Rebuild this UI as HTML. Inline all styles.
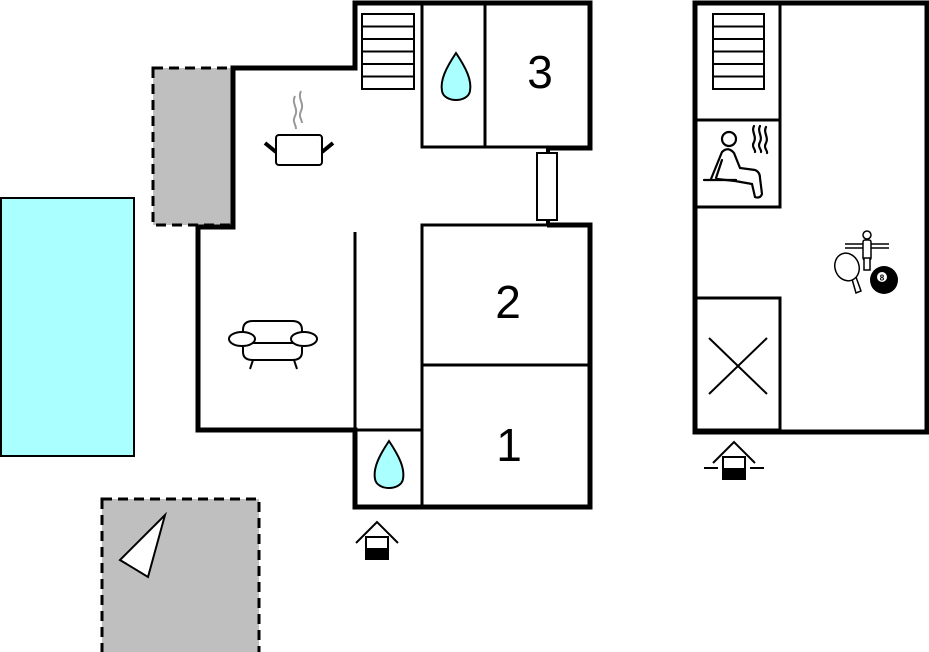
<!DOCTYPE html>
<html><head><style>body{margin:0;background:#fff}svg{display:block}</style></head><body>
<svg width="929" height="652" viewBox="0 0 929 652" xmlns="http://www.w3.org/2000/svg" font-family="Liberation Sans, sans-serif">
<rect x="1" y="198" width="133" height="258" fill="#aaffff" stroke="#000" stroke-width="2"/>
<rect x="153" y="68" width="80" height="157" fill="#bfbfbf" stroke="#000" stroke-width="3" stroke-dasharray="10,6"/>
<rect x="102" y="499" width="157" height="160" fill="#bfbfbf" stroke="#000" stroke-width="3" stroke-dasharray="10,6"/>
<polygon points="120,560 165,515 148,577" fill="#fff" stroke="#000" stroke-width="2"/>
<g stroke="#000" stroke-width="3" fill="none">
<rect x="422" y="3" width="63" height="144"/>
<rect x="485" y="3" width="105" height="144"/>
<rect x="422" y="225" width="168" height="140"/>
<rect x="422" y="365" width="168" height="142"/>
<rect x="355" y="430" width="67" height="77"/>
<line x1="355" y1="232" x2="355" y2="430"/>
</g>
<g stroke="#000" stroke-width="2" fill="#fff">
<rect x="362" y="14" width="52" height="75"/>
<line x1="362" y1="26.5" x2="414" y2="26.5"/><line x1="362" y1="39" x2="414" y2="39"/><line x1="362" y1="51.5" x2="414" y2="51.5"/><line x1="362" y1="64" x2="414" y2="64"/><line x1="362" y1="76.5" x2="414" y2="76.5"/>
<rect x="537" y="153" width="20" height="67"/>
</g>
<path d="M548 148 V153 M548 220 V225" stroke="#000" stroke-width="4"/>
<path d="M547 225 H590 V507 H355 V430 H198 V227 H233 V68 H355 V3 H590 V148 H547" fill="none" stroke="#000" stroke-width="5" stroke-linejoin="miter"/>
<path d="M456 53 C446 68 440 80 442 91 C444 103 468 103 470 91 C472 80 466 68 456 53 Z" fill="#aaffff" stroke="#000" stroke-width="2"/>
<path d="M389 441 C379 456 373 468 375 479 C377 491 401 491 403 479 C405 468 399 456 389 441 Z" fill="#aaffff" stroke="#000" stroke-width="2"/>
<text x="540" y="88" font-size="46" text-anchor="middle">3</text>
<text x="508" y="318" font-size="46" text-anchor="middle">2</text>
<text x="509" y="461" font-size="46" text-anchor="middle">1</text>
<g stroke="#000" stroke-width="2" fill="none">
<path d="M295 96 c-4 8 4 12 0 20 c-3 6 1 8 1 13" stroke="#999"/>
<path d="M301 91 c-4 8 4 12 0 20 c-3 6 1 8 1 12" stroke="#999"/>
<rect x="276" y="135" width="46" height="30" rx="3" fill="#fff"/>
<line x1="265" y1="143" x2="276" y2="152" stroke-width="4"/>
<line x1="333" y1="143" x2="322" y2="152" stroke-width="4"/>
</g>
<g stroke="#000" stroke-width="2" fill="#fff">
<path d="M243 340 V330 Q243 321 253 321 H292 Q302 321 302 330 V340"/>
<path d="M243 347 V352 Q243 360 253 360 H292 Q302 360 302 352 V347"/>
<line x1="250" y1="343" x2="297" y2="343"/>
<ellipse cx="242" cy="339" rx="13" ry="7"/>
<ellipse cx="304" cy="339" rx="13" ry="7"/>
<line x1="253" y1="360" x2="250" y2="369"/><line x1="294" y1="360" x2="297" y2="369"/>
</g>
<g stroke="#000" stroke-width="2" fill="none">
<polyline points="356,543 377,522 398,543"/>
<rect x="366" y="537" width="22" height="22" fill="#fff"/>
</g>
<rect x="366" y="548" width="22" height="11" fill="#000"/>
<g stroke="#000" stroke-width="3" fill="none">
<line x1="780" y1="3" x2="780" y2="207"/>
<line x1="695" y1="120" x2="780" y2="120"/>
<rect x="695" y="120" width="85" height="87"/>
<rect x="695" y="298" width="85" height="132"/>
<line x1="709" y1="338" x2="767" y2="394" stroke-width="2"/>
<line x1="767" y1="338" x2="709" y2="394" stroke-width="2"/>
</g>
<g stroke="#000" stroke-width="2" fill="#fff">
<rect x="713" y="14" width="51" height="75"/>
<line x1="713" y1="26.5" x2="764" y2="26.5"/><line x1="713" y1="39" x2="764" y2="39"/><line x1="713" y1="51.5" x2="764" y2="51.5"/><line x1="713" y1="64" x2="764" y2="64"/><line x1="713" y1="76.5" x2="764" y2="76.5"/>
</g>
<rect x="695" y="3" width="232" height="429" fill="none" stroke="#000" stroke-width="5"/>
<g stroke="#000" stroke-width="2.2" fill="none" stroke-linecap="round">
<circle cx="729" cy="139" r="7"/>
<path d="M711 179 L722 152 Q728 146 734 153 L740 168 L755 170 Q760 172 760 178 L762 194 Q760 199 755 197 L752 184 L735 181 L717 179"/>
<path d="M722 160 L716 178"/>
<line x1="704" y1="180" x2="736" y2="180"/>
<path d="M754 126 c-3 6 3 10 0 16 c-3 5 2 8 1 10"/>
<path d="M760 126 c-3 6 3 10 0 16 c-3 5 2 8 1 10"/>
<path d="M766 127 c-3 6 3 10 0 16 c-3 5 2 8 1 10"/>
</g>
<g stroke="#000" stroke-width="1.5" fill="#fff">
<line x1="845" y1="244" x2="889" y2="244"/><line x1="845" y1="248" x2="889" y2="248"/>
<circle cx="867" cy="235" r="4"/>
<rect x="863" y="240" width="8" height="20" rx="2"/>
<rect x="864" y="258" width="6" height="12"/>
<path d="M852 279 L856 293 L861 291 L856 277 Z"/>
<ellipse cx="847" cy="267" rx="12" ry="14" transform="rotate(-20 847 267)"/>
</g>
<circle cx="884" cy="280" r="14" fill="#000"/>
<circle cx="882" cy="277" r="5" fill="#fff"/>
<text x="882" y="280.5" font-size="8" font-weight="bold" text-anchor="middle">8</text>
<g stroke="#000" stroke-width="2" fill="none">
<polyline points="713,463 734,442 755,463"/>
<rect x="723" y="457" width="22" height="22" fill="#fff"/>
<line x1="704" y1="468" x2="718" y2="468"/>
<line x1="750" y1="468" x2="764" y2="468"/>
</g>
<rect x="723" y="468" width="22" height="11" fill="#000"/>
</svg>
</body></html>
